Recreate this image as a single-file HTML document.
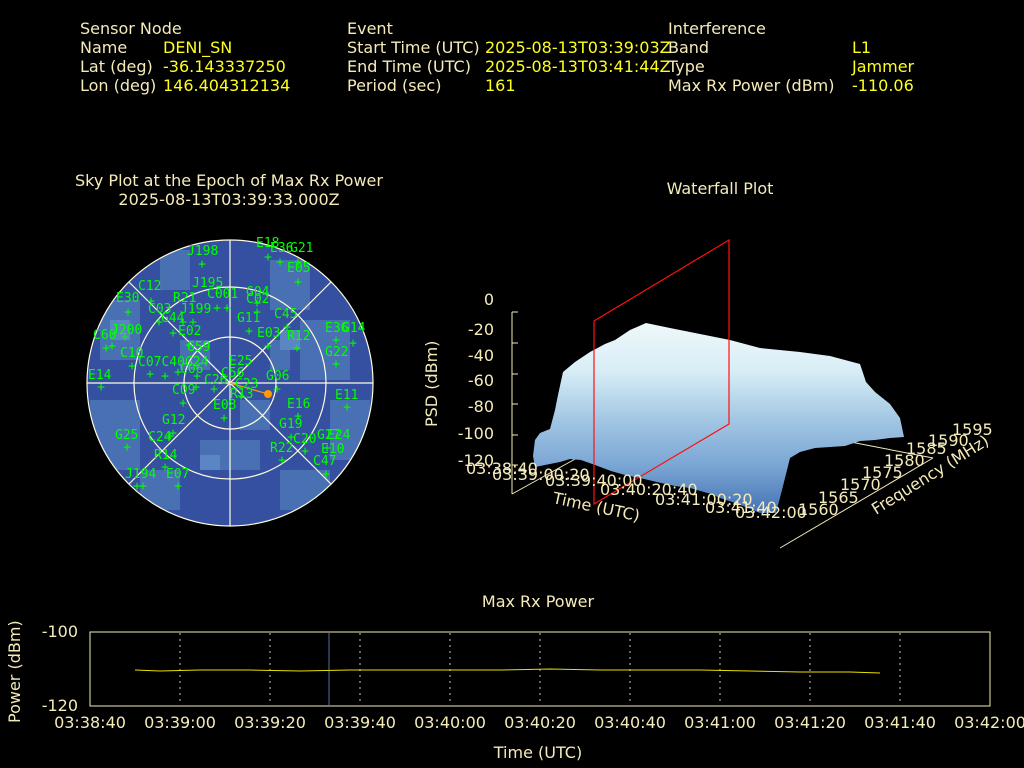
<!DOCTYPE html>
<html><head><meta charset="utf-8"><style>
html,body{margin:0;padding:0;background:#000;width:1024px;height:768px;overflow:hidden}
svg{display:block}
.t{font-family:"DejaVu Sans","Liberation Sans",sans-serif;font-size:16px;fill:#f5ebb9}
.v{font-family:"DejaVu Sans","Liberation Sans",sans-serif;font-size:16px;fill:#ffff1e}
.s{font-family:"DejaVu Sans Mono","Liberation Mono",monospace;font-size:13px;fill:#00ff00}
.p{font-family:"DejaVu Sans Mono","Liberation Mono",monospace;font-size:13px;fill:#00ff00}
</style></head><body>
<svg width="1024" height="768" viewBox="0 0 1024 768" xmlns="http://www.w3.org/2000/svg">
<defs>
<clipPath id="cc"><circle cx="230" cy="383" r="143"/></clipPath>
<linearGradient id="wg" x1="0" y1="0" x2="0" y2="1">
<stop offset="0" stop-color="#eef8fa"/><stop offset="0.25" stop-color="#d8eef6"/>
<stop offset="0.5" stop-color="#a4c8e4"/><stop offset="0.75" stop-color="#7aa6d4"/><stop offset="1" stop-color="#4572b4"/></linearGradient>
</defs>
<!-- header -->
<text class="t" x="80" y="34">Sensor Node</text>
<text class="t" x="80" y="53">Name</text><text class="v" x="163" y="53">DENI_SN</text>
<text class="t" x="80" y="72">Lat (deg)</text><text class="v" x="163" y="72">-36.143337250</text>
<text class="t" x="80" y="91">Lon (deg)</text><text class="v" x="163" y="91">146.404312134</text>
<text class="t" x="347" y="34">Event</text>
<text class="t" x="347" y="53">Start Time (UTC)</text><text class="v" x="485" y="53">2025-08-13T03:39:03Z</text>
<text class="t" x="347" y="72">End Time (UTC)</text><text class="v" x="485" y="72">2025-08-13T03:41:44Z</text>
<text class="t" x="347" y="91">Period (sec)</text><text class="v" x="485" y="91">161</text>
<text class="t" x="668" y="34">Interference</text>
<text class="t" x="668" y="53">Band</text><text class="v" x="852" y="53">L1</text>
<text class="t" x="668" y="72">Type</text><text class="v" x="852" y="72">Jammer</text>
<text class="t" x="668" y="91">Max Rx Power (dBm)</text><text class="v" x="852" y="91">-110.06</text>

<!-- sky plot -->
<text class="t" x="229" y="186" text-anchor="middle">Sky Plot at the Epoch of Max Rx Power</text>
<text class="t" x="229" y="205" text-anchor="middle">2025-08-13T03:39:33.000Z</text>
<g clip-path="url(#cc)">
<rect x="85" y="238" width="290" height="290" fill="#3550a0"/>
<g fill="#4a70b4">
<rect x="100" y="300" width="40" height="60"/><rect x="160" y="250" width="30" height="40"/>
<rect x="270" y="260" width="40" height="50"/><rect x="300" y="320" width="50" height="60"/>
<rect x="90" y="400" width="50" height="70"/><rect x="200" y="440" width="60" height="30"/>
<rect x="280" y="470" width="50" height="40"/><rect x="140" y="470" width="40" height="40"/>
<rect x="330" y="400" width="40" height="60"/><rect x="240" y="400" width="30" height="30"/>
<rect x="180" y="340" width="30" height="30"/><rect x="270" y="340" width="20" height="30"/>
</g>
<g fill="#5a86c4"><rect x="280" y="330" width="20" height="20"/><rect x="200" y="455" width="20" height="15"/><rect x="110" y="320" width="20" height="20"/></g>
</g>
<g stroke="#fffde0" stroke-width="1.2" fill="none">
<circle cx="230" cy="383" r="143"/><circle cx="230" cy="383" r="96"/><circle cx="230" cy="383" r="46"/>
<line x1="87" y1="383" x2="373" y2="383"/><line x1="230" y1="240" x2="230" y2="526"/>
<line x1="129" y1="282" x2="331" y2="484"/><line x1="331" y1="282" x2="129" y2="484"/>
</g>
<line x1="230" y1="383" x2="268" y2="394" stroke="#ff9900" stroke-width="1.2"/>
<circle cx="268" cy="394" r="4" fill="#ff9900"/>
<g class="s">
<text x="187" y="255">J198</text><text x="256" y="247">E18</text><text x="270" y="252">E36</text><text x="290" y="252">G21</text>
<text x="287" y="272">E05</text><text x="138" y="290">C12</text><text x="192" y="287">J195</text>
<text x="173" y="302">R21</text><text x="207" y="298">C001</text><text x="246" y="296">G04</text><text x="246" y="303">C02</text>
<text x="116" y="302">E30</text><text x="148" y="313">C03</text><text x="180" y="313">J199</text><text x="161" y="322">G44</text>
<text x="274" y="318">C45</text><text x="237" y="322">G11</text><text x="325" y="332">E36</text><text x="342" y="332">G14</text>
<text x="111" y="334">J200</text><text x="93" y="339">C60</text><text x="178" y="335">E02</text><text x="257" y="337">E03</text>
<text x="287" y="340">R12</text><text x="325" y="356">G22</text><text x="187" y="351">G59</text><text x="120" y="357">C10</text>
<text x="138" y="366">C07C40G24</text><text x="180" y="373">C06</text><text x="229" y="365">E25</text><text x="221" y="377">C56</text>
<text x="204" y="384">C26</text><text x="235" y="388">C23</text><text x="230" y="398">R13</text><text x="266" y="380">G06</text>
<text x="88" y="379">E14</text><text x="172" y="394">C09</text><text x="335" y="399">E11</text><text x="213" y="409">E08</text>
<text x="287" y="408">E16</text><text x="162" y="424">G12</text><text x="279" y="428">G19</text><text x="115" y="439">G25</text>
<text x="148" y="441">C24</text><text x="293" y="443">C20</text><text x="317" y="439">G27</text><text x="327" y="439">E24</text>
<text x="321" y="453">E10</text><text x="270" y="452">R22</text><text x="154" y="459">R14</text><text x="313" y="465">C47</text>
<text x="125" y="478">J194</text><text x="166" y="478">E07</text>
</g>
<g class="p" text-anchor="middle">
<text x="202" y="268">+</text><text x="268" y="261">+</text><text x="280" y="266">+</text><text x="298" y="266">+</text>
<text x="298" y="286">+</text><text x="151" y="305">+</text><text x="217" y="312">+</text><text x="227" y="312">+</text>
<text x="257" y="307">+</text><text x="257" y="316">+</text><text x="128" y="316">+</text><text x="159" y="326">+</text>
<text x="183" y="326">+</text><text x="193" y="326">+</text><text x="287" y="331">+</text><text x="249" y="335">+</text>
<text x="336" y="344">+</text><text x="353" y="347">+</text><text x="106" y="352">+</text><text x="112" y="350">+</text>
<text x="125" y="341">+</text><text x="173" y="337">+</text><text x="268" y="350">+</text><text x="297" y="352">+</text>
<text x="336" y="368">+</text><text x="189" y="349">+</text><text x="132" y="370">+</text><text x="150" y="378">+</text>
<text x="165" y="380">+</text><text x="178" y="376">+</text><text x="197" y="380">+</text><text x="277" y="393">+</text>
<text x="101" y="391">+</text><text x="183" y="407">+</text><text x="347" y="411">+</text><text x="224" y="422">+</text>
<text x="298" y="420">+</text><text x="173" y="437">+</text><text x="291" y="441">+</text><text x="127" y="451">+</text>
<text x="170" y="440">+</text><text x="305" y="455">+</text><text x="327" y="452">+</text><text x="282" y="464">+</text>
<text x="165" y="471">+</text><text x="326" y="478">+</text><text x="137" y="490">+</text><text x="143" y="490">+</text>
<text x="178" y="490">+</text><text x="214" y="393">+</text><text x="241" y="400">+</text><text x="196" y="391">+</text>
</g>

<!-- waterfall -->
<text class="t" x="720" y="194" text-anchor="middle">Waterfall Plot</text>
<g stroke="#f5ebb9" stroke-width="1" fill="none">
<line x1="512" y1="312" x2="512" y2="494"/>
<line x1="512" y1="312" x2="518" y2="312"/><line x1="512" y1="343" x2="518" y2="343"/>
<line x1="512" y1="374" x2="518" y2="374"/><line x1="512" y1="404" x2="518" y2="404"/>
<line x1="512" y1="435" x2="518" y2="435"/><line x1="512" y1="465" x2="518" y2="465"/>
<line x1="512" y1="494" x2="577" y2="458"/>
<line x1="780" y1="548" x2="933" y2="458"/>
<line x1="933" y1="458" x2="830" y2="438"/>
</g>
<polygon fill="url(#wg)" points="533,456 535,440 540,433 550,429 555,410 558,395 563,372 575,362 590,352 605,344 615,340 630,330 646,323 670,328 700,334 730,340 760,348 800,352 830,356 860,364 866,382 875,392 890,404 900,418 904,437 890,438 875,440 860,441 845,446 815,448 800,452 790,458 787,470 782,490 776,513 760,513 748,508 735,503 720,498 711,494 690,488 675,486 661,483 640,478 625,475 611,471 595,465 581,460 570,459 560,462 545,465 535,467"/>
<g stroke="#ff1010" stroke-width="1.2" fill="none">
<polygon points="594,504 729,424 729,240 594,321"/>
</g>
<g class="t">
<text x="494" y="305" text-anchor="end">0</text><text x="494" y="335" text-anchor="end">-20</text>
<text x="494" y="361" text-anchor="end">-40</text><text x="494" y="386" text-anchor="end">-60</text>
<text x="494" y="412" text-anchor="end">-80</text><text x="494" y="439" text-anchor="end">-100</text>
<text x="494" y="466" text-anchor="end">-120</text>
<text transform="translate(437,427) rotate(-90)">PSD (dBm)</text>
<text x="466" y="474">03:38:40</text><text x="492" y="480">03:39:00:20</text>
<text x="545" y="486">03:39:40:00</text><text x="600" y="495">03:40:20:40</text>
<text x="655" y="505">03:41:00:20</text><text x="705" y="513">03:41:40</text><text x="735" y="518">03:42:00</text>
<text transform="translate(552,503) rotate(12)">Time (UTC)</text>
<text x="798" y="515">1560</text><text x="818" y="503">1565</text><text x="840" y="490">1570</text>
<text x="862" y="478">1575</text><text x="884" y="466">1580</text><text x="906" y="454">1585</text>
<text x="928" y="446">1590</text><text x="952" y="435">1595</text>
<text transform="translate(876,515) rotate(-32)">Frequency (MHz)</text>
</g>

<!-- max rx power -->
<text class="t" x="538" y="607" text-anchor="middle">Max Rx Power</text>
<rect x="90" y="632" width="900" height="74" fill="none" stroke="#f5ebb9" stroke-width="1"/>
<g stroke="#c8c8c8" stroke-width="1" stroke-dasharray="2,4">
<line x1="180" y1="633" x2="180" y2="705"/><line x1="270" y1="633" x2="270" y2="705"/>
<line x1="360" y1="633" x2="360" y2="705"/><line x1="450" y1="633" x2="450" y2="705"/>
<line x1="540" y1="633" x2="540" y2="705"/><line x1="630" y1="633" x2="630" y2="705"/>
<line x1="720" y1="633" x2="720" y2="705"/><line x1="810" y1="633" x2="810" y2="705"/>
<line x1="900" y1="633" x2="900" y2="705"/>
</g>
<line x1="329" y1="633" x2="329" y2="705" stroke="#5070a0" stroke-width="1"/>
<polyline fill="none" stroke="#e8e000" stroke-width="1" points="135,670 160,671 200,670 250,670 300,671 350,670 400,670 450,670 500,670 550,669 600,670 650,670 700,670 750,671 800,672 850,672 880,673"/>
<g class="t">
<text x="78" y="637" text-anchor="end">-100</text><text x="78" y="711" text-anchor="end">-120</text>
<text transform="translate(20,723) rotate(-90)">Power (dBm)</text>
<text x="90" y="728" text-anchor="middle">03:38:40</text><text x="180" y="728" text-anchor="middle">03:39:00</text>
<text x="270" y="728" text-anchor="middle">03:39:20</text><text x="360" y="728" text-anchor="middle">03:39:40</text>
<text x="450" y="728" text-anchor="middle">03:40:00</text><text x="540" y="728" text-anchor="middle">03:40:20</text>
<text x="630" y="728" text-anchor="middle">03:40:40</text><text x="720" y="728" text-anchor="middle">03:41:00</text>
<text x="810" y="728" text-anchor="middle">03:41:20</text><text x="900" y="728" text-anchor="middle">03:41:40</text>
<text x="990" y="728" text-anchor="middle">03:42:00</text>
<text x="538" y="758" text-anchor="middle">Time (UTC)</text>
</g>
</svg>
</body></html>
